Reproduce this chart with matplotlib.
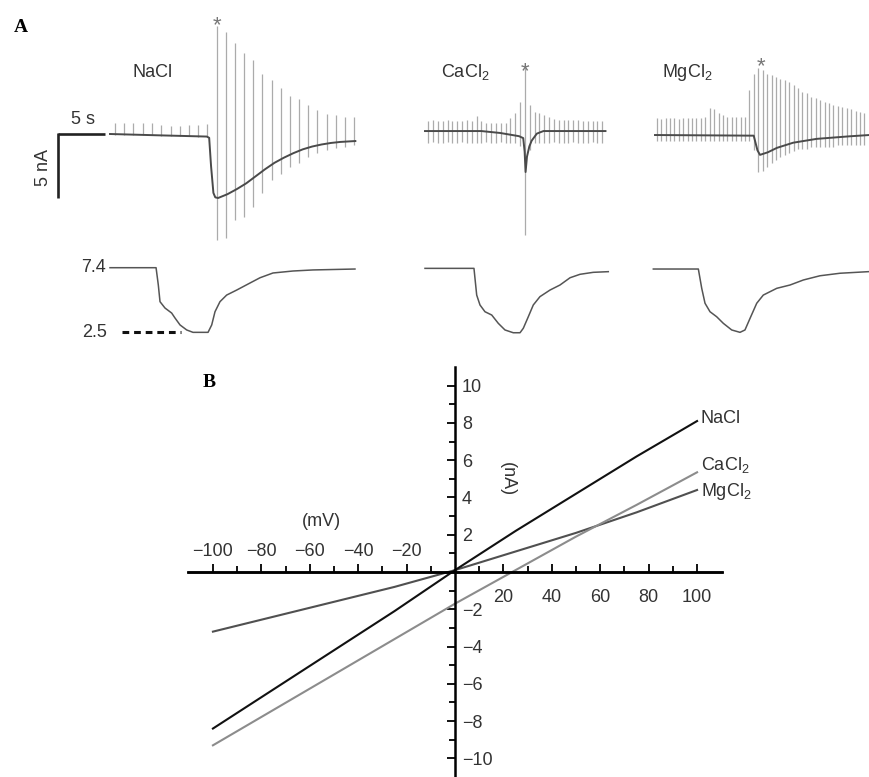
import numpy as np
import matplotlib.pyplot as plt
from matplotlib.ticker import FixedLocator

plt.rcParams['font.family'] = ['Liberation Sans', 'DejaVu Sans']

# ---------------- panel A: whole-cell currents (nA) vs time (s) ----------------
names = ['NaCl', r'CaCl$_\mathregular{2}$', r'MgCl$_\mathregular{2}$']

# NaCl
nacl_t = [0, 5.0, 10.3, 10.55, 10.75, 11.0, 11.2, 11.5, 12.5, 13.5, 14.5, 15.5, 16.5,
          17.5, 18.5, 19.5, 20.5, 21.5, 22.5, 23.5, 24.5, 26.1]
nacl_i = [0, -0.1, -0.2, -0.3, -2.5, -4.6, -4.95, -5.0, -4.7, -4.3, -3.85, -3.3, -2.75,
          -2.25, -1.85, -1.5, -1.2, -0.98, -0.82, -0.7, -0.62, -0.55]
nacl_spk_t = [0.53, 1.52, 2.48, 3.47, 4.43, 5.43, 6.45, 7.45, 8.43, 9.39, 10.35,
              11.35, 12.31, 13.30, 14.26, 15.24, 16.20, 17.20, 18.16, 19.15, 20.11,
              21.10, 22.05, 23.05, 24.01, 25.00, 25.96]
nacl_spk_hi = [0.85, 0.85, 0.85, 0.85, 0.85, 0.7, 0.65, 0.65, 0.7, 0.7, 0.75,
               8.4, 8.0, 7.1, 6.3, 5.8, 4.7, 4.2, 3.6, 3.0, 2.7, 2.3, 1.9, 1.6, 1.5, 1.35, 1.3]
nacl_spk_lo = [-0.05, -0.05, -0.05, -0.08, -0.1, -0.12, -0.15, -0.15, -0.18, -0.2, -0.22,
               -8.3, -8.1, -6.7, -6.5, -5.7, -4.6, -3.6, -3.1, -2.6, -2.3, -1.8, -1.5,
               -1.25, -1.1, -1.0, -0.86]

# CaCl2
cacl_t = [0, 6.0, 8.0, 10.0, 10.45, 10.6, 10.7, 10.85, 11.1, 11.35, 11.9, 12.6, 19.2]
cacl_i = [0, 0, -0.15, -0.4, -0.55, -1.6, -3.2, -2.0, -1.2, -0.75, -0.2, 0, 0]
cacl_spk_t = [0.35, 0.86, 1.38, 1.89, 2.41, 2.92, 3.43, 3.95, 4.46, 4.98, 5.49, 6.00,
              6.52, 7.03, 7.55, 8.06, 8.57, 9.09, 9.60, 10.12, 10.63, 11.14, 11.66,
              12.17, 12.69, 13.20, 13.71, 14.23, 14.74, 15.26, 15.77, 16.28, 16.80,
              17.31, 17.83, 18.34, 18.85]
cacl_spk_hi = [0.8, 0.85, 0.8, 0.8, 0.85, 0.8, 0.8, 0.8, 0.85, 0.8, 1.2, 0.75,
               0.6, 0.6, 0.6, 0.6, 0.6, 1.0, 1.4, 2.3, 5.15, 2.0, 1.5, 1.4, 1.25, 1.1,
               0.95, 0.9, 0.9, 0.85, 0.85, 0.85, 0.8, 0.8, 0.8, 0.8, 0.8]
cacl_spk_lo = [-0.9, -0.85, -0.9, -0.9, -0.85, -0.9, -0.9, -0.85, -0.9, -0.9, -0.95,
               -0.9, -0.85, -0.9, -0.9, -0.85, -0.9, -0.9, -0.95, -1.2, -8.1, -1.5,
               -0.9, -0.9, -0.9, -0.9, -0.85, -0.9, -0.9, -0.9, -0.85, -0.9, -0.9,
               -0.9, -0.85, -0.9, -0.9]

# MgCl2
mgcl_t = [0, 10.5, 10.9, 11.17, 12.0, 12.98, 14.7, 17.2, 20.7, 22.8]
mgcl_i = [0, -0.05, -1.2, -1.55, -1.35, -1.0, -0.6, -0.3, -0.1, 0]
mgcl_spk_t = [0.18, 0.65, 1.12, 1.59, 2.06, 2.53, 3.00, 3.47, 3.94, 4.41, 4.88, 5.35,
              5.82, 6.29, 6.76, 7.23, 7.70, 8.17, 8.64, 9.11, 9.58, 10.05, 10.52,
              10.99, 11.46, 11.93, 12.40, 12.87, 13.34, 13.81, 14.28, 14.75, 15.22,
              15.69, 16.16, 16.63, 17.10, 17.57, 18.04, 18.51, 18.98, 19.45, 19.92,
              20.39, 20.86, 21.33, 21.80, 22.27]
mgcl_spk_hi = [1.3, 1.25, 1.3, 1.35, 1.3, 1.25, 1.3, 1.3, 1.35, 1.3, 1.3, 1.4,
               2.1, 2.0, 1.7, 1.6, 1.4, 1.4, 1.4, 1.4, 1.4, 3.5, 4.8, 5.2, 5.1, 4.8,
               4.7, 4.55, 4.4, 4.3, 4.15, 3.9, 3.65, 3.4, 3.3, 3.0, 2.9, 2.75, 2.6,
               2.5, 2.35, 2.3, 2.2, 2.1, 2.0, 1.9, 1.8, 1.75]
mgcl_spk_lo = [-0.5] * 22 + [-1.2, -2.9, -2.8, -2.5, -2.2, -1.95, -1.75, -1.55, -1.4,
                              -1.25, -1.1, -1.1, -1.1] + [-0.9] * 6 + [-0.75] * 7

# pH traces
nacl_ph_t = [0, 4.9, 5.14, 5.32, 5.85, 6.56, 6.91, 7.45, 8.16, 8.83, 10.43, 10.82, 11.17,
             11.7, 12.41, 13.48, 14.89, 15.96, 17.34, 19.47, 21.6, 26.06]
nacl_ph = [7.4, 7.4, 6.09, 4.83, 4.35, 3.97, 3.6, 3.07, 2.69, 2.51, 2.51, 3.07, 4.07,
           4.83, 5.33, 5.71, 6.24, 6.64, 7.0, 7.15, 7.23, 7.3]
cacl_ph_t = [0, 5.21, 5.5, 5.85, 6.38, 7.1, 7.8, 8.51, 9.39, 10.11, 10.46, 10.99, 11.52,
             12.23, 13.3, 14.36, 15.43, 16.49, 17.9, 19.5]
cacl_ph = [7.35, 7.35, 5.33, 4.58, 4.07, 3.82, 3.19, 2.69, 2.48, 2.48, 2.82, 3.69, 4.58,
           5.21, 5.71, 6.09, 6.64, 6.9, 7.05, 7.1]
mgcl_ph_t = [-0.18, 4.61, 4.97, 5.32, 5.85, 6.56, 7.27, 8.16, 9.04, 9.57, 10.11, 10.82,
             11.52, 12.95, 14.36, 15.78, 17.55, 19.68, 22.69]
mgcl_ph = [7.3, 7.3, 5.84, 4.71, 4.07, 3.69, 3.19, 2.69, 2.51, 2.69, 3.57, 4.71, 5.33,
           5.84, 6.09, 6.47, 6.79, 6.98, 7.1]

# ---------------- panel B: I-V relations ----------------
volt = [-100, -75, -50, -25, 0, 25, 50, 75, 100]
iv_nacl = [-8.4, -6.3, -4.2, -2.1, 0.1, 2.2, 4.2, 6.2, 8.1]
iv_cacl = [-9.3, -7.4, -5.5, -3.6, -1.7, 0.1, 1.9, 3.6, 5.35]
iv_mgcl = [-3.2, -2.4, -1.6, -0.8, 0.1, 1.1, 2.1, 3.2, 4.4]

# layout: where each recording sits on the shared time axis of panel A
t_offset = [0.0, 33.51, 57.98]
i_offset = [0.0, 0.23, -0.08]
lbl_t = [4.57, 4.26, 3.40]
star_t = [11.35, 10.63, 11.3]
star_i = [8.0, 4.2, 4.9]

fig = plt.figure(figsize=(8.69, 7.77), dpi=100)
W, H = 869.0, 777.0
px_s, px_na, px_ph = 9.4, 12.8, 13.22

axA = fig.add_axes([0, 1 - 250 / H, 1, 250 / H])
axA.set_xlim(-110 / px_s, (W - 110) / px_s)
axA.set_ylim(-116 / px_na, 134 / px_na)
axA.axis('off')

axP = fig.add_axes([0, 1 - 345 / H, 1, 95 / H])
axP.set_xlim(-110 / px_s, (W - 110) / px_s)
axP.set_ylim(7.4 - (345 - 267.7) / px_ph, 7.4 + (267.7 - 250) / px_ph)
axP.axis('off')

traces = [(nacl_t, nacl_i, nacl_spk_t, nacl_spk_lo, nacl_spk_hi, nacl_ph_t, nacl_ph),
          (cacl_t, cacl_i, cacl_spk_t, cacl_spk_lo, cacl_spk_hi, cacl_ph_t, cacl_ph),
          (mgcl_t, mgcl_i, mgcl_spk_t, mgcl_spk_lo, mgcl_spk_hi, mgcl_ph_t, mgcl_ph)]

for k, (t, i, st, lo, hi, pt, ph) in enumerate(traces):
    dt, di = t_offset[k], i_offset[k]
    axA.vlines(np.array(st) + dt, np.array(lo) + di, np.array(hi) + di,
               color='#ababab', lw=0.9)
    axA.plot(np.array(t) + dt, np.array(i) + di, color='#4a4a4a', lw=1.4)
    axA.text(lbl_t[k] + dt, 4.84, names[k], ha='center', va='center', fontsize=13, color='#333333')
    axA.text(star_t[k] + dt, star_i[k] + di, '*', ha='center', va='baseline',
             fontsize=16, color='#777777')
    axP.plot(np.array(pt) + dt, ph, color='#555555', lw=1.1)

# scale bar 5 s / 5 nA
axA.plot([-5.53, -0.53], [0, 0], color='#222222', lw=1.9, solid_capstyle='butt')
axA.plot([-5.53, -5.53], [0.07, -5], color='#222222', lw=1.9, solid_capstyle='butt')
axA.text(-2.9, 1.1, '5 s', ha='center', va='center', fontsize=13, color='#333333')
axA.text(-7.1, -2.6, '5 nA', ha='center', va='center', rotation=90, fontsize=13, color='#333333')

axP.text(-0.4, 7.4, '7.4', ha='right', va='center', fontsize=13, color='#333333')
axP.text(-0.3, 2.5, '2.5', ha='right', va='center', fontsize=13, color='#333333')
axP.plot([1.24, 7.6], [2.5, 2.5], color='#111111', lw=2.2, linestyle=(0, (2.2, 1.6)))

fig.text(14 / W, 1 - 27 / H, 'A', fontsize=14, fontweight='bold',
         family='Liberation Serif', ha='left', va='center')
fig.text(203 / W, 1 - 382 / H, 'B', fontsize=14, fontweight='bold',
         family='Liberation Serif', ha='left', va='center')

# ---------------- panel B axes ----------------
axB = fig.add_axes([188 / W, 0, 534 / W, 410 / H])
axB.set_xlim(-110.3, 110.3)
axB.set_ylim(-11, 11)
axB.patch.set_visible(False)
axB.spines['left'].set_visible(False)
axB.spines['top'].set_visible(False)
axB.spines['right'].set_position(('data', 0))
axB.spines['bottom'].set_position(('data', 0))
for s in ['right', 'bottom']:
    axB.spines[s].set_linewidth(1.8)
axB.yaxis.set_ticks_position('right')
axB.set_yticks([-10, -8, -6, -4, -2, 2, 4, 6, 8, 10])
axB.yaxis.set_minor_locator(FixedLocator([-9, -7, -5, -3, -1, 1, 3, 5, 7, 9]))
axB.xaxis.set_ticks_position('bottom')
axB.set_xticks([20, 40, 60, 80, 100])
axB.xaxis.set_minor_locator(FixedLocator([10, 30, 50, 70, 90]))
axB.tick_params(axis='y', which='both', direction='in', width=1.3, labelsize=13,
                labelcolor='#333333', pad=5)
axB.tick_params(axis='x', which='both', direction='in', width=1.3, labelsize=13,
                labelcolor='#333333', pad=12)
axB.tick_params(which='major', length=6)
axB.tick_params(which='minor', length=4)

axT = axB.twiny()
axT.set_xlim(axB.get_xlim())
for s in ['left', 'right', 'bottom']:
    axT.spines[s].set_visible(False)
axT.spines['top'].set_position(('data', 0))
axT.spines['top'].set_linewidth(1.8)
axT.xaxis.set_ticks_position('top')
axT.set_xticks([-100, -80, -60, -40, -20])
axT.xaxis.set_minor_locator(FixedLocator([-90, -70, -50, -30, -10]))
axT.tick_params(axis='x', which='both', direction='out', width=1.3, labelsize=13,
                labelcolor='#333333', pad=3)
axT.tick_params(which='major', length=6)
axT.tick_params(which='minor', length=4)

axB.plot(volt, iv_mgcl, color='#505050', lw=1.5)
axB.plot(volt, iv_cacl, color='#8c8c8c', lw=1.5)
axB.plot(volt, iv_nacl, color='#111111', lw=1.5)
axB.text(101.5, 8.25, 'NaCl', ha='left', va='center', fontsize=13, color='#333333')
axB.text(101.5, 5.75, r'CaCl$_\mathregular{2}$', ha='left', va='center', fontsize=13, color='#333333')
axB.text(101.5, 4.3, r'MgCl$_\mathregular{2}$', ha='left', va='center', fontsize=13, color='#333333')
axB.text(-55, 2.7, '(mV)', ha='center', va='center', fontsize=13, color='#333333')
axB.text(21.5, 5.0, '(nA)', ha='center', va='center', rotation=270, fontsize=13, color='#333333')

fig.savefig('out.png', dpi=100)
